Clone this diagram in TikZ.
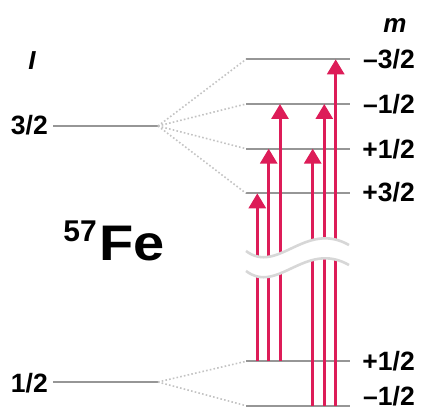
\documentclass[tikz,border=0pt]{standalone}
\usepackage{fontspec}
\setmainfont{Liberation Sans}
\usetikzlibrary{arrows.meta}
\definecolor{arrowred}{RGB}{221,28,88}
\definecolor{levelgray}{RGB}{150,150,150}
\definecolor{dotgray}{RGB}{195,195,195}
\definecolor{breakgray}{RGB}{215,215,215}
\begin{document}
\begin{tikzpicture}[x=1pt,y=-1pt,
  level/.style={draw=levelgray, line width=2pt},
  splitline/.style={draw=dotgray, line width=1.6pt, dash pattern=on 1.6pt off 2.2pt},
  trans/.style={draw=arrowred, line width=3pt, -{Triangle[width=17pt,length=15pt,fill=arrowred]}},
  lbl/.style={font=\fontsize{26.5}{26.5}\selectfont\bfseries, inner sep=0pt},
  axislbl/.style={font=\fontsize{26}{26}\selectfont\bfseries\itshape, inner sep=0pt}]
\useasboundingbox (0,0) rectangle (421,411);
% unsplit levels
\coordinate (eL) at (53,126);  \coordinate (eR) at (158,126);
\coordinate (gL) at (53,382);  \coordinate (gR) at (158,382);
% split excited levels
\coordinate (m3L) at (246,59.3);  \coordinate (m3R) at (350,59.3);
\coordinate (m1L) at (246,104);   \coordinate (m1R) at (350,104);
\coordinate (p1L) at (246,148.7); \coordinate (p1R) at (350,148.7);
\coordinate (p3L) at (246,193.3); \coordinate (p3R) at (350,193.3);
% split ground levels
\coordinate (gp1L) at (246,361.3); \coordinate (gp1R) at (350,361.3);
\coordinate (gm1L) at (246,405.7); \coordinate (gm1R) at (350,405.7);
% level lines
\draw[level] (eL) -- (eR);
\draw[level] (gL) -- (gR);
\foreach \n in {m3,m1,p1,p3,gp1,gm1} \draw[level] (\n L) -- (\n R);
% dotted splitting lines
\foreach \n in {m3,m1,p1,p3} \draw[splitline] (eR) -- (\n L);
\foreach \n in {gp1,gm1} \draw[splitline] (gR) -- (\n L);
% transitions
\coordinate (a1s) at (257.3,361.3); \coordinate (a1e) at (257.3,193.3);
\coordinate (a2s) at (268.7,361.3); \coordinate (a2e) at (268.7,148.7);
\coordinate (a3s) at (280,361.3);   \coordinate (a3e) at (280,104);
\coordinate (a4s) at (312.7,405.7); \coordinate (a4e) at (312.7,148.7);
\coordinate (a5s) at (324.3,405.7); \coordinate (a5e) at (324.3,104);
\coordinate (a6s) at (335.7,405.7); \coordinate (a6e) at (335.7,59.3);
\foreach \i in {1,...,6} \draw[trans] (a\i s) -- (a\i e);
% axis break
\fill[white] (246,251) .. controls (278,275) and (305,220) .. (349,245)
  -- (349,265) .. controls (305,240) and (278,295) .. (246,271) -- cycle;
\draw[breakgray, line width=2.6pt] (246,251) .. controls (278,275) and (305,220) .. (349,245);
\draw[breakgray, line width=2.6pt] (246,271) .. controls (278,295) and (305,240) .. (349,265);
% labels
\node[axislbl] (Ilbl) at (32,61) {I};
\node[axislbl] (mlbl) at (395,26) {m};
\node[lbl, anchor=east] (l32) at (48,125) {3/2};
\node[lbl, anchor=east] (l12) at (48,383) {1/2};
\node[lbl, anchor=east] (r1) at (415,59) {–3/2};
\node[lbl, anchor=east] (r2) at (415,104) {–1/2};
\node[lbl, anchor=east] (r3) at (415,149) {+1/2};
\node[lbl, anchor=east] (r4) at (415,192) {+3/2};
\node[lbl, anchor=east] (r5) at (415,361) {+1/2};
\node[lbl, anchor=east] (r6) at (415,396) {–1/2};
\node[inner sep=0pt, anchor=base west, font=\fontsize{50}{50}\selectfont\bfseries\addfontfeature{FakeStretch=1.12}] (fe) at (99,261) {Fe};
\node[inner sep=0pt, anchor=base east, font=\fontsize{30}{30}\selectfont\bfseries] (iso) at (97,241.5) {57};
\end{tikzpicture}
\end{document}
